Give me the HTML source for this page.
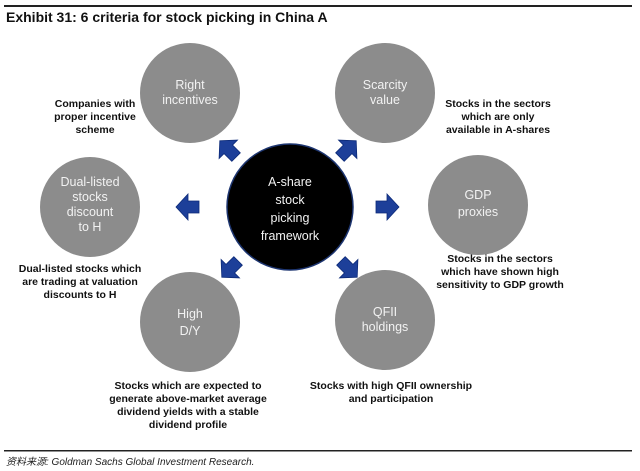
<!DOCTYPE html>
<html><head><meta charset="utf-8"><style>
body{margin:0;background:#fff;width:640px;height:471px;overflow:hidden}
svg{display:block}
.t{font-family:"Liberation Sans","Noto Sans CJK SC",sans-serif}
.d{font-family:"Liberation Sans",sans-serif;font-size:10.5px;font-weight:bold;fill:#111;text-anchor:middle}
.c{font-family:"Liberation Sans",sans-serif;font-size:12.5px;fill:#f2f2f2;text-anchor:middle}
</style></head><body>
<svg width="640" height="471" viewBox="0 0 640 471">
<defs>
<path id="ar" d="M-10,-6 L1,-6 L1,-13 L13,0 L1,13 L1,6 L-10,6 Z" fill="#1d3f99" stroke="#0c2a78" stroke-width="0.8"/>
</defs>
<rect x="4" y="5" width="628" height="2" fill="#222"/>
<text x="6" y="22" class="t" font-size="14" font-weight="bold" fill="#111">Exhibit 31: 6 criteria for stock picking in China A</text>

<ellipse cx="190" cy="93" rx="50" ry="50" fill="#8c8c8c"/>
<text class="c" x="190" y="89">Right</text><text class="c" x="190" y="104">incentives</text>
<ellipse cx="385" cy="93" rx="50" ry="50" fill="#8c8c8c"/>
<text class="c" x="385" y="89">Scarcity</text><text class="c" x="385" y="104">value</text>
<ellipse cx="478" cy="205" rx="50" ry="50" fill="#8c8c8c"/>
<text class="c" x="478" y="199" font-size="14">GDP</text><text class="c" x="478" y="216" font-size="14">proxies</text>
<ellipse cx="385" cy="320" rx="50" ry="50" fill="#8c8c8c"/>
<text class="c" x="385" y="316">QFII</text><text class="c" x="385" y="331">holdings</text>
<ellipse cx="190" cy="322" rx="50" ry="50" fill="#8c8c8c"/>
<text class="c" x="190" y="318" font-size="14">High</text><text class="c" x="190" y="335" font-size="14">D/Y</text>
<ellipse cx="90" cy="207" rx="50" ry="50" fill="#8c8c8c"/>
<text class="c" x="90" y="186" font-size="12">Dual-listed</text><text class="c" x="90" y="201" font-size="12">stocks</text><text class="c" x="90" y="216" font-size="12">discount</text><text class="c" x="90" y="231" font-size="12">to H</text>

<circle cx="290" cy="207" r="63" fill="#000" stroke="#1d3570" stroke-width="1.5"/>
<text class="c" x="290" y="186" font-size="14">A-share</text>
<text class="c" x="290" y="204" font-size="14">stock</text>
<text class="c" x="290" y="222" font-size="14">picking</text>
<text class="c" x="290" y="240" font-size="14">framework</text>

<use href="#ar" transform="translate(229,150) rotate(-135)"/>
<use href="#ar" transform="translate(347,150) rotate(-45)"/>
<use href="#ar" transform="translate(189,207) rotate(180)"/>
<use href="#ar" transform="translate(386,207)"/>
<use href="#ar" transform="translate(231,268) rotate(135)"/>
<use href="#ar" transform="translate(348,268) rotate(45)"/>

<text class="d" x="95" y="107">Companies with</text>
<text class="d" x="95" y="120">proper incentive</text>
<text class="d" x="95" y="133">scheme</text>
<text class="d" x="498" y="107">Stocks in the sectors</text>
<text class="d" x="498" y="120">which are only</text>
<text class="d" x="498" y="133">available in A-shares</text>
<text class="d" x="80" y="272">Dual-listed stocks which</text>
<text class="d" x="80" y="285">are trading at valuation</text>
<text class="d" x="80" y="298">discounts to H</text>
<text class="d" x="500" y="262">Stocks in the sectors</text>
<text class="d" x="500" y="275">which have shown high</text>
<text class="d" x="500" y="288">sensitivity to GDP growth</text>
<text class="d" x="188" y="389">Stocks which are expected to</text>
<text class="d" x="188" y="402">generate above-market average</text>
<text class="d" x="188" y="415">dividend yields with a stable</text>
<text class="d" x="188" y="428">dividend profile</text>
<text class="d" x="391" y="389">Stocks with high QFII ownership</text>
<text class="d" x="391" y="402">and participation</text>

<rect x="4" y="450" width="628" height="1.5" fill="#222"/>
<text x="6" y="465" class="t" font-size="10" font-style="italic" fill="#222">资料来源:   Goldman Sachs Global Investment Research.</text>
</svg>
</body></html>
